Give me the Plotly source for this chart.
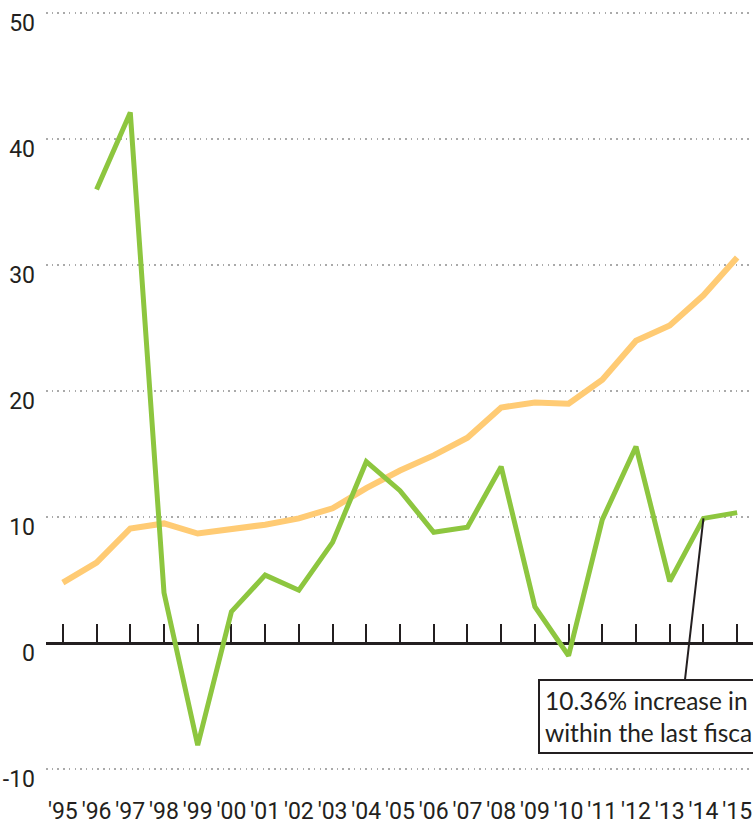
import plotly.graph_objects as go

years = list(range(1995, 2016))
year_labels = ["'95", "'96", "'97", "'98", "'99", "'00", "'01", "'02", "'03", "'04", "'05",
               "'06", "'07", "'08", "'09", "'10", "'11", "'12", "'13", "'14", "'15"]

orange_vals = [4.8, 6.4, 9.1, 9.5, 8.7, 9.0, 9.4, 9.9, 10.7, 12.3, 13.7,
               14.9, 16.3, 18.7, 19.1, 19.0, 20.9, 24.0, 25.2, 27.6, 30.6]

green_years = list(range(1996, 2016))
green_vals = [36.0, 42.1, 4.0, -8.1, 2.5, 5.4, 4.2, 8.0, 14.4, 12.1,
              8.8, 9.2, 14.0, 2.9, -1.0, 9.8, 15.6, 4.9, 9.9, 10.36]

y_ticks = [-10, 0, 10, 20, 30, 40, 50]
y_labels = ["-10", "0", "10", "20", "30", "40", "50"]

annot_text = "10.36% increase in revenue<br>within the last fiscal year"

INK = "#231f20"
LABEL_FONT = "Roboto, Liberation Sans, sans-serif"

W, H = 753, 825
ML, MR, MT, MB = 46, 0, 0, 50
PW, PH = W - ML - MR, H - MT - MB

y_min, y_max = -10.46, 51.03
zero_pos = (0 - y_min) / (y_max - y_min)

fig = go.Figure()
fig.add_trace(go.Scatter(x=years, y=orange_vals, mode="lines",
                         line=dict(color="#FFCB74", width=6), hoverinfo="skip"))
fig.add_trace(go.Scatter(x=green_years, y=green_vals, mode="lines",
                         line=dict(color="#8DC63F", width=5), hoverinfo="skip"))
# empty trace to register the zero-baseline axis
fig.add_trace(go.Scatter(x=[], y=[], xaxis="x2", yaxis="y", showlegend=False))

# connector line from the last fiscal point to the box
fig.add_annotation(x=green_years[-2], y=green_vals[-2], xref="x", yref="y",
                   text="", showarrow=True, arrowhead=0, arrowwidth=2,
                   arrowcolor=INK, ax=-19, ay=166, axref="pixel", ayref="pixel")
fig.add_annotation(x=(538 - ML) / PW, y=1 - (679 - MT) / PH, xref="paper", yref="paper",
                   xanchor="left", yanchor="top", text=annot_text, align="left",
                   showarrow=False, bordercolor=INK, borderwidth=2, borderpad=5,
                   bgcolor="white",
                   font=dict(family="Lato, Open Sans, sans-serif", size=24.5, color=INK))

fig.update_layout(
    width=W, height=H,
    margin=dict(l=ML, r=MR, t=MT, b=MB, autoexpand=False),
    paper_bgcolor="white", plot_bgcolor="white",
    showlegend=False,
    xaxis=dict(range=[1994.5, 2015.47], tickvals=years, ticktext=year_labels,
               showgrid=False, zeroline=False, showline=False, ticks="",
               tickangle=0, automargin=False, ticklabeloverflow="allow",
               tickfont=dict(family=LABEL_FONT, size=23, color=INK),
               ticklabelstandoff=20, fixedrange=True),
    xaxis2=dict(overlaying="x", matches="x", anchor="free", position=zero_pos,
                side="bottom", tickvals=years, ticks="inside", ticklen=18,
                tickwidth=2, tickcolor=INK, showline=True, linewidth=2.5,
                linecolor=INK, showticklabels=False, showgrid=False,
                zeroline=False, layer="below traces", automargin=False),
    yaxis=dict(range=[y_min, y_max], tickvals=y_ticks, ticktext=y_labels,
               showgrid=True, gridcolor="#aaaaaa", gridwidth=1.5,
               griddash="1.5px,4.2px", zeroline=False, showline=False, ticks="",
               automargin=False, ticklabeloverflow="allow",
               tickfont=dict(family=LABEL_FONT, size=23, color=INK),
               ticklabelshift=10, ticklabelstandoff=10, fixedrange=True),
)

fig.write_html("out.html")
